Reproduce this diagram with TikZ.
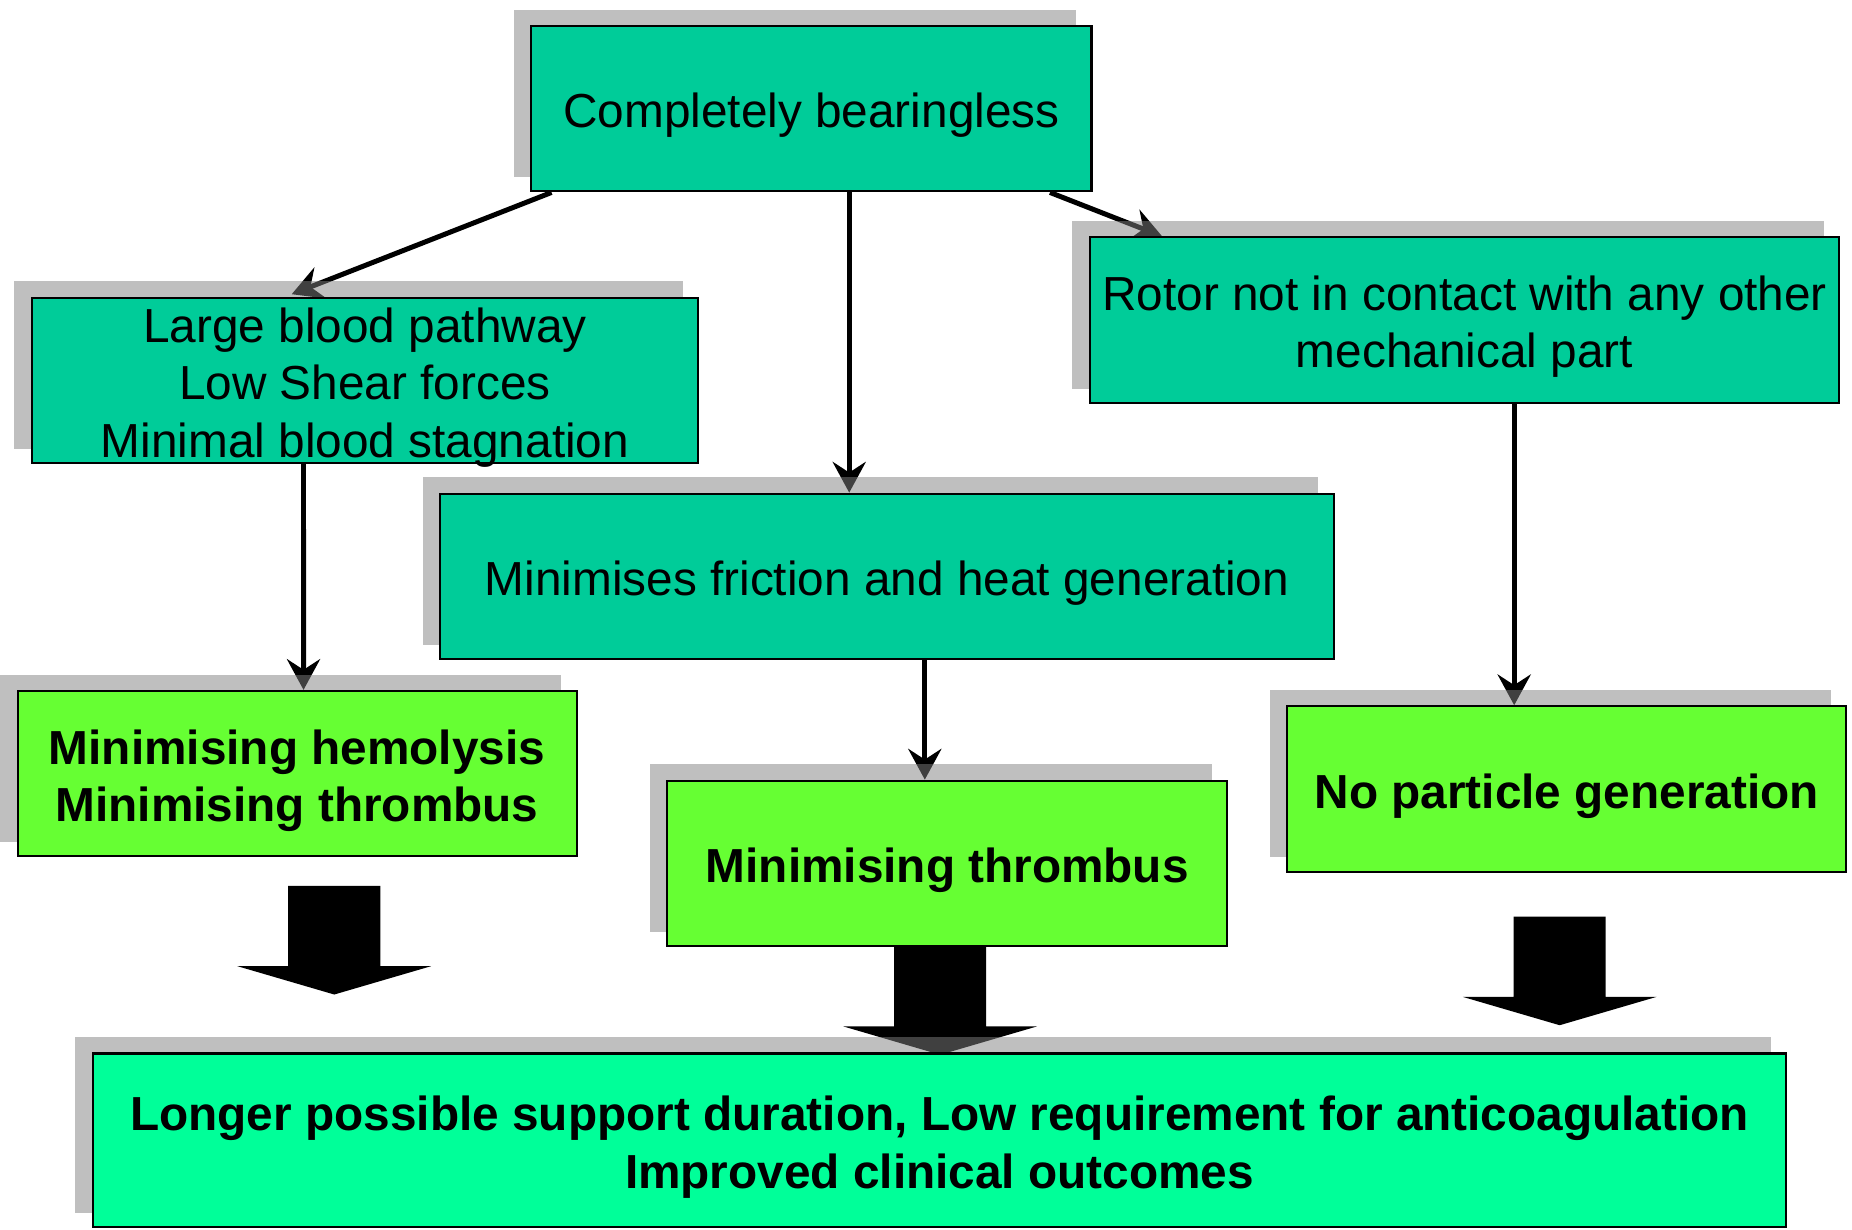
\documentclass[tikz,border=0pt]{standalone}
\usepackage{fontspec}
\setmainfont{Liberation Sans}
\usetikzlibrary{arrows.meta,calc}
\pgfdeclarelayer{links}
\pgfdeclarelayer{shade}
\pgfsetlayers{links,shade,main}
\definecolor{teal box}{HTML}{00CC99}
\definecolor{lime box}{HTML}{66FF33}
\definecolor{mint box}{HTML}{00FF99}

\begin{document}
\begin{tikzpicture}[
  x=0.01cm,y=-0.01cm,
  text top/.style={execute at begin node={\rule{0pt}{#1}}},
  box/.style={draw,line width=0.5pt,inner sep=0pt,minimum height=1.4cm,align=center,
    font=\fontsize{11.5pt}{13.8pt}\selectfont,text top=11.6pt},
  cause/.style={box,fill=teal box},
  effect/.style={box,fill=lime box,font=\fontsize{11.5pt}{13.8pt}\selectfont\bfseries},
  shade/.style={fill=black!50,fill opacity=0.5},
  link/.style={-{Stealth[length=2.6mm,width=2.8mm,inset=0.9mm]},line width=1.2pt},
  pics/bigdown/.style={code={
    \fill (-39,0) -- (39,0) -- (39,68) -- (82,68) -- (0,92) -- (-82,68) -- (-39,68) -- cycle;}}
]
  \useasboundingbox (0,0) rectangle (1568,1041);

  \node[cause,minimum width=4.74cm] (bearingless) at (687,92) {Completely bearingless};
  \node[cause,minimum width=5.64cm,text top=37pt,text depth=0pt] (blood-path) at (309,322)
    {Large blood pathway\\Low Shear forces\\Minimal blood stagnation};
  \node[cause,minimum width=6.34cm,text top=25.4pt] (rotor-free) at (1240,271)
    {Rotor not in contact with any other\\mechanical part};
  \node[cause,minimum width=7.56cm] (low-friction) at (751,488)
    {Minimises friction and heat generation};

  \node[effect,minimum width=4.73cm,text top=25.4pt] (hemolysis) at (251.5,655)
    {Minimising hemolysis\\Minimising thrombus};
  \node[effect,minimum width=4.74cm] (thrombus) at (802,731) {Minimising thrombus};
  \node[effect,minimum width=4.73cm] (particles) at (1326.5,668) {No particle generation};

  \node[box,fill=mint box,minimum width=14.33cm,minimum height=1.47cm,text top=25.6pt,
    font=\fontsize{11.5pt}{14pt}\selectfont\bfseries] (outcome) at (795.5,965.5)
    {Longer possible support duration, Low requirement for anticoagulation\\Improved clinical outcomes};

  \begin{pgfonlayer}{shade}
    \foreach \b in {bearingless,blood-path,rotor-free,low-friction,hemolysis,thrombus,particles,outcome}
      \fill[shade] ($(\b.south west)+(-14,-13)$) rectangle ($(\b.north east)+(-14,-13)$);
  \end{pgfonlayer}

  \begin{pgfonlayer}{links}
    \draw[link] ($(bearingless.south west)+(18,0)$) -- ($(blood-path.north west)+(221,-2)$);
    \draw[link] ($(bearingless.south)+(32,0)$) -- ($(low-friction.north)+(-32,0)$);
    \draw[link] ($(bearingless.south west)+(440,0)$) -- ($(rotor-free.north west)+(62,0)$);
    \draw[link] ($(blood-path.south west)+(231,0)$) -- ($(hemolysis.north west)+(243,0)$);
    \draw[link] ($(low-friction.south)+(32,0)$) -- ($(thrombus.north)+(-19,0)$);
    \draw[link] ($(rotor-free.south)+(42,0)$) -- ($(particles.north)+(-44.5,0)$);

    \pic at (283,750) {bigdown};
    \pic at (796,801) {bigdown};
    \pic at (1320.5,776) {bigdown};
  \end{pgfonlayer}
\end{tikzpicture}
\end{document}
